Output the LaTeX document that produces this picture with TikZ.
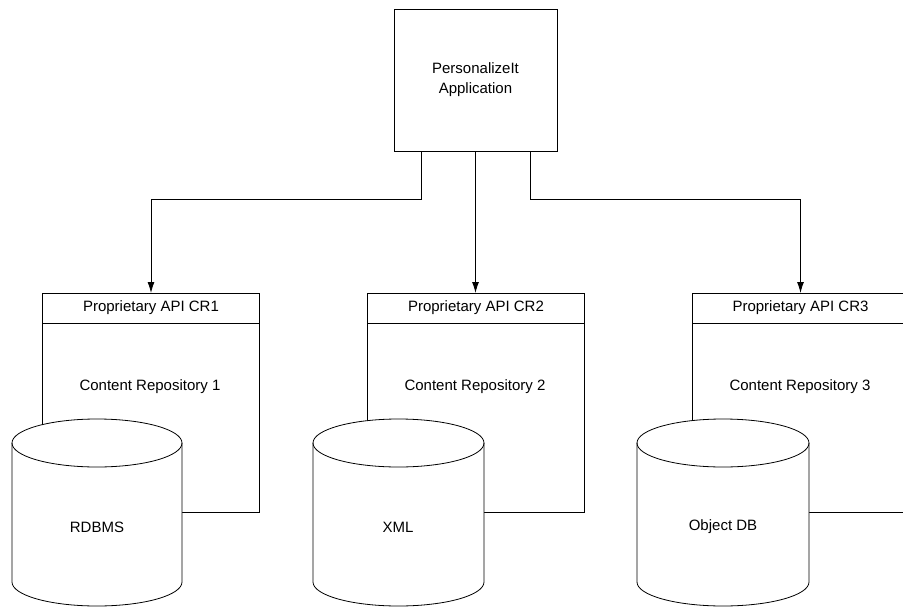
\documentclass[tikz,border=0pt]{standalone}
\usepackage{fontspec}
\setmainfont{Liberation Sans}
\usetikzlibrary{arrows.meta}

\tikzset{
  box/.style={draw,line width=0.8,outer sep=0,inner sep=0,font=\fontsize{15}{20}\selectfont},
  conn/.style={line width=0.8,-{Latex[length=11,width=7]}},
  dbshape/.style={draw,line width=0.8,fill=white},
  txt/.style={font=\fontsize{15}{20}\selectfont}
}

\begin{document}
\begin{tikzpicture}[x=1pt,y=1pt]
\path[use as bounding box,clip] (0,0) rectangle (903,-608);

\node[box,minimum width=163,minimum height=142,align=center] (app) at (475.5,-80) {PersonalizeIt\\Application};

\node[box,minimum width=217,minimum height=30] (api1) at (151,-308) {Proprietary API CR1};
\node[box,minimum width=217,minimum height=30] (api2) at (476,-308) {Proprietary API CR2};
\node[box,minimum width=217,minimum height=30] (api3) at (800.5,-308) {Proprietary API CR3};

\node[box,minimum width=217,minimum height=189,anchor=north] (cr1) at (api1.south) {};
\node[box,minimum width=217,minimum height=189,anchor=north] (cr2) at (api2.south) {};
\node[box,minimum width=217,minimum height=189,anchor=north] (cr3) at (api3.south) {};

\node[txt] (crtext1) at (150,-387) {Content Repository 1};
\node[txt] (crtext2) at (475,-387) {Content Repository 2};
\node[txt] (crtext3) at (800,-387) {Content Repository 3};

\draw[conn] ([xshift=-54]app.south) -- ++(0,-48) -| (api1.north);
\draw[conn] (app.south) -- (app.south |- api2.north);
\draw[conn] ([xshift=55]app.south) -- ++(0,-48) -| (api3.north);

% databases
\draw[dbshape] (12,-443) -- (12,-582) arc[start angle=180,end angle=360,x radius=85,y radius=24]
  -- (182,-443) arc[start angle=0,end angle=180,x radius=85,y radius=24] -- cycle;
\draw[line width=0.8] (12,-443) arc[start angle=180,end angle=360,x radius=85,y radius=24];
\node[txt] (db1) at (97,-527) {RDBMS};

\draw[dbshape] (313,-443) -- (313,-582) arc[start angle=180,end angle=360,x radius=85.5,y radius=24]
  -- (484,-443) arc[start angle=0,end angle=180,x radius=85.5,y radius=24] -- cycle;
\draw[line width=0.8] (313,-443) arc[start angle=180,end angle=360,x radius=85.5,y radius=24];
\node[txt] (db2) at (398,-527) {XML};

\draw[dbshape] (637,-443) -- (637,-582) arc[start angle=180,end angle=360,x radius=86,y radius=24]
  -- (809,-443) arc[start angle=0,end angle=180,x radius=86,y radius=24] -- cycle;
\draw[line width=0.8] (637,-443) arc[start angle=180,end angle=360,x radius=86,y radius=24];
\node[txt] (db3) at (723,-527) {Object DB};

\end{tikzpicture}
\end{document}
